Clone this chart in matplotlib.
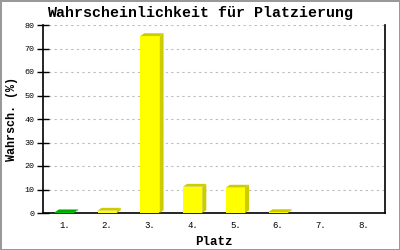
import matplotlib
matplotlib.use("Agg")
import matplotlib.pyplot as plt
from matplotlib.patches import Polygon

places = ["1.", "2.", "3.", "4.", "5.", "6.", "7.", "8."]
chance = [0.3, 1.0, 75.3, 11.2, 10.8, 0.4, 0.0, 0.0]
front_cols = ["#00CC00", "#FFFF00", "#FFFF00", "#FFFF00", "#FFFF00", "#FFFF00", "#FFFF00", "#FFFF00"]
shade_cols = ["#00A800", "#CCCC00", "#CCCC00", "#CCCC00", "#CCCC00", "#CCCC00", "#CCCC00", "#CCCC00"]

plt.rcParams["font.family"] = ["Liberation Mono", "DejaVu Sans Mono"]

fig = plt.figure(figsize=(4, 2.5), dpi=100)
fig.patch.set_edgecolor("#999999")
fig.patch.set_linewidth(2)
ax = fig.add_axes([43 / 400, 37 / 250, 342 / 400, 188 / 250])

w = 0.45
dx = 0.095   # depth to the right, data units
dy = 1.2     # depth upwards, data units
for i, v in enumerate(chance):
    if v <= 0:
        continue
    ax.bar(i, v, width=w, color=front_cols[i], zorder=3)
    l, r = i - w / 2, i + w / 2
    side = Polygon([(r, 0), (r + dx, dy), (r + dx, v + dy), (r, v)],
                   closed=True, facecolor=shade_cols[i], edgecolor="none", zorder=3)
    top = Polygon([(l, v), (l + dx, v + dy), (r + dx, v + dy), (r, v)],
                  closed=True, facecolor=shade_cols[i], edgecolor="none", zorder=3)
    ax.add_patch(side)
    ax.add_patch(top)

ax.set_xlim(-0.5, 7.5)
ax.set_ylim(0, 80)
ax.set_yticks(range(0, 81, 10))
ax.set_xticks(range(len(places)))
ax.set_xticklabels(places)
ax.tick_params(axis="y", direction="inout", length=8, width=1, labelsize=6, pad=2)
ax.tick_params(axis="x", length=0, labelsize=6.5, pad=6)
ax.yaxis.grid(True, color="#BBBBBB", linestyle=(0, (2, 3)), linewidth=0.8, zorder=0)
ax.set_axisbelow(True)
ax.spines["top"].set_visible(False)
for s in ["left", "right", "bottom"]:
    ax.spines[s].set_linewidth(1.2)

ax.set_xlabel("Platz", fontsize=9, fontweight="bold", labelpad=4)
ax.set_ylabel("Wahrsch. (%)", fontsize=8.5, fontweight="bold", labelpad=5)
fig.text(0.5, 0.948, "Wahrscheinlichkeit für Platzierung", ha="center", va="center",
         fontsize=10.8, fontweight="bold")

fig.savefig("out.png", dpi=100, edgecolor=fig.get_edgecolor())
